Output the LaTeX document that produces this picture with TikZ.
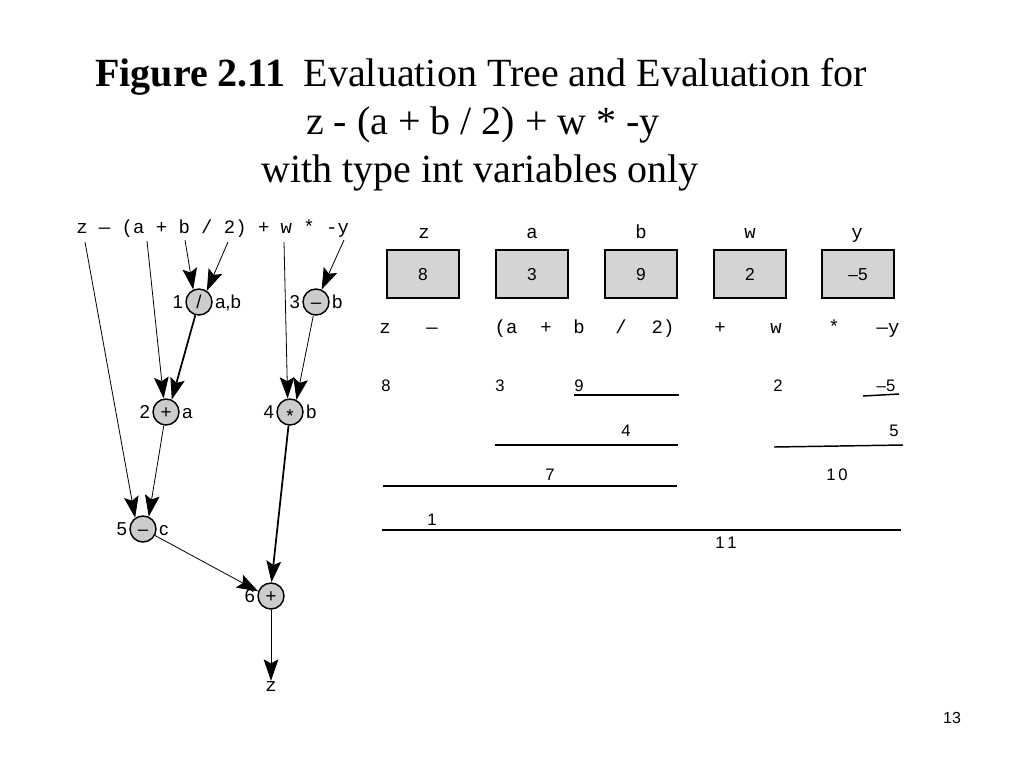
\documentclass[tikz,border=0pt]{standalone}
\usepackage{fontspec}
\setmainfont{Liberation Serif}
\setsansfont{Liberation Sans}
\setmonofont{Liberation Mono}
\usetikzlibrary{arrows.meta}
\definecolor{opgray}{gray}{0.8}
\definecolor{boxgray}{gray}{0.83}
\tikzset{
  title/.style={font=\fontsize{30}{30}\selectfont, inner sep=0pt},
  code/.style={font=\ttfamily\fontsize{14.2}{14.2}\selectfont, inner sep=0pt},
  op/.style={circle, draw, line width=1.1pt, fill=opgray, minimum size=19.5pt, inner sep=0pt, text height=9pt, text depth=0pt, font=\sffamily\fontsize{14}{14}\selectfont, label distance=2pt},
  lab/.style={font=\sffamily\fontsize{14}{14}\selectfont, inner sep=1.5pt, text height=10pt, text depth=0pt},
  num/.style={font=\sffamily\fontsize{12.5}{12.5}\selectfont, inner sep=0pt},
  valbox/.style={draw, line width=0.9pt, fill=boxgray, minimum width=54pt, minimum height=36pt, text height=9.3pt, text depth=0pt, font=\sffamily\fontsize{13}{13}\selectfont},
  arr/.style={-{Stealth[length=16pt,width=11pt,inset=3pt]}, line width=0.6pt},
  heavy/.style={arr, line width=1.3pt},
  bar/.style={line width=1.1pt}
}
\begin{document}
\begin{tikzpicture}[x=0.75pt,y=-0.75pt]
\useasboundingbox (0,0) rectangle (1024,768);
% title
\node[title, anchor=base] (title1) at (481,86) {\textbf{Figure 2.11}\hspace{0.45em}Evaluation Tree and Evaluation for};
\node[title, anchor=base] (title2) at (483,134) {z - (a + b / 2) + w * -y};
\node[title, anchor=base] (title3) at (480,182) {with type int variables only};
% expression and tree
\node[code, anchor=base west] (expr) at (76,233) {z — (a + b / 2) + w * -y};
\coordinate (sz) at (85,242);
\coordinate (sa) at (147,241);
\coordinate (sb) at (185,240);
\coordinate (stwo) at (228,242);
\coordinate (sw) at (284,242);
\coordinate (sy) at (344,240);
\node[op, label={[lab]left:1}, label={[lab]right:a,b}] (div) at (199,302) {/};
\node[op, label={[lab]left:3}, label={[lab]right:b}] (neg) at (316,302) {–};
\node[op, label={[lab]left:2}, label={[lab]right:a}] (addab) at (166,412) {+};
\node[op, label={[lab]left:4}, label={[lab]right:b}] (mul) at (290,412) {\raisebox{-3.5pt}{*}};
\node[op, label={[lab]left:5}, label={[lab]right:c}] (sub) at (143,529) {–};
\node[op, label={[lab]left:6}] (addall) at (271,596) {+};
\node[code] (zout) at (271,686) {z};
\draw[arr] (sb) -- (div.115);
\draw[arr] (stwo) -- (div.55);
\draw[arr] (sy) -- (neg);
\draw[arr] (sa) -- (addab.100);
\draw[heavy] (div) -- (addab.65);
\draw[arr] (sw) -- (mul.100);
\draw[arr] (neg) -- (mul.62);
\draw[arr] (sz) -- (sub.125);
\draw[arr] (addab) -- (sub.65);
\draw[heavy] (mul) -- (addall.88);
\draw[arr] (sub) -- (addall.160);
\draw[arr] (addall) -- (zout);
% variable boxes
\node[code, anchor=base] (nz) at (424,238) {z};
\node[code, anchor=base] (na) at (532,238) {a};
\node[code, anchor=base] (nb) at (641,238) {b};
\node[code, anchor=base] (nw) at (750,238) {w};
\node[code, anchor=base] (ny) at (857,238) {y};
\node[valbox] (vz) at (423,274) {8};
\node[valbox] (va) at (532,274) {3};
\node[valbox] (vb) at (641,274) {9};
\node[valbox] (vw) at (750,274) {2};
\node[valbox] (vy) at (858,274) {–5};
% evaluation
\node[code, anchor=base] (ez) at (385,333) {z};
\node[code, anchor=base] (eminus) at (432,333) {—};
\node[code, anchor=base] (ea) at (506,333) {(a};
\node[code, anchor=base] (eplus) at (546,333) {+};
\node[code, anchor=base] (eb) at (579,333) {b};
\node[code, anchor=base] (ediv) at (621,333) {/};
\node[code, anchor=base] (etwo) at (663,333) {2)};
\node[code, anchor=base] (eplustwo) at (720,333) {+};
\node[code, anchor=base] (ew) at (776,333) {w};
\node[code, anchor=base] (emul) at (834,333) {*};
\node[code, anchor=base] (ey) at (888,333) {—y};
\node[num, anchor=base] (r8) at (386,391) {8};
\node[num, anchor=base] (r3) at (500,391) {3};
\node[num, anchor=base] (r9) at (579,391) {9};
\node[num, anchor=base] (r2) at (778,391) {2};
\node[num, anchor=base] (rm5) at (886,391) {–5};
\draw[bar] (574,395) -- (679,395);
\draw[bar] (863,396) -- (899,394);
\node[num, anchor=base] (r4) at (626,436) {4};
\node[num, anchor=base] (r5) at (894,436) {5};
\draw[bar] (495,445) -- (678,445);
\draw[bar] (774,447) -- (903,445);
\node[num, anchor=base] (r7) at (550,480) {7};
\node[num, anchor=base] (r10) at (837,480) {1\,0};
\draw[bar] (383,486) -- (677,486);
\node[num, anchor=base] (r1) at (432,525) {1};
\draw[bar] (382,530) -- (901,530);
\node[num, anchor=base] (r11) at (726,548) {1\,1};
% page number
\node[num, font=\sffamily\fontsize{12}{12}\selectfont] (page) at (952,718) {13};
\end{tikzpicture}
\end{document}
